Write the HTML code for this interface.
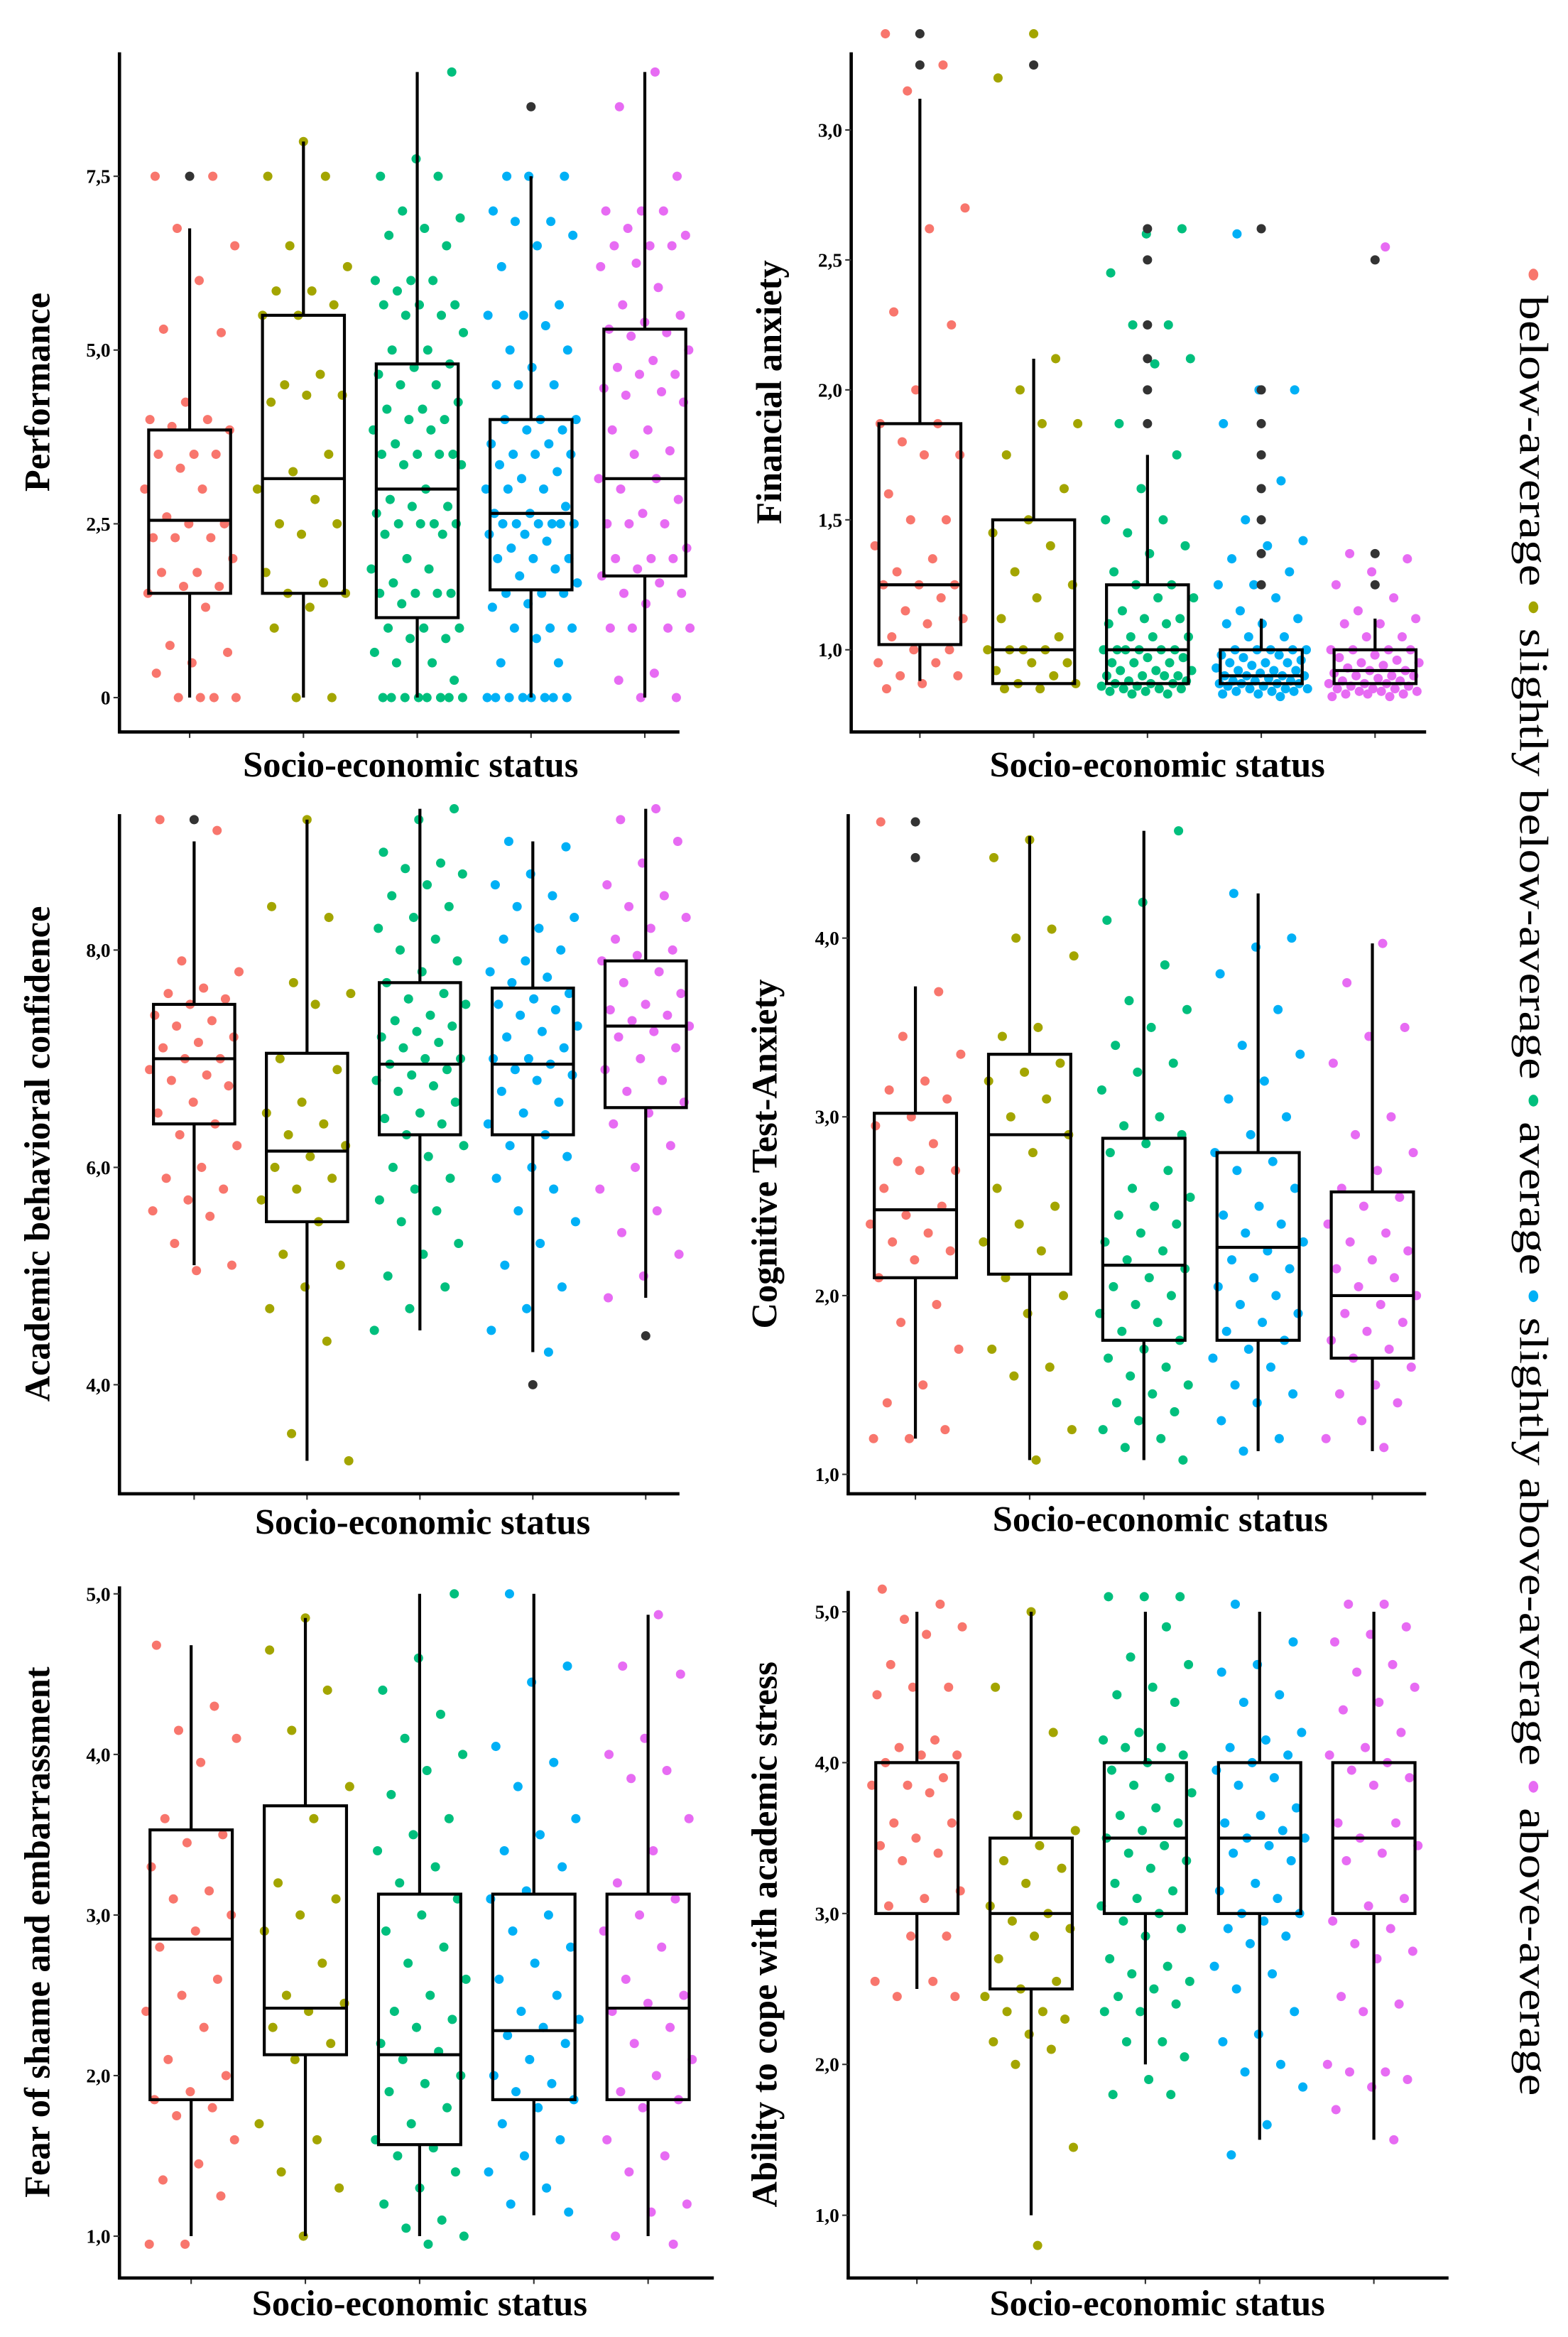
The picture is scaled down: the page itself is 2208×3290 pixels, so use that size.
<!DOCTYPE html>
<html><head><meta charset="utf-8"><style>
html,body{margin:0;padding:0;background:#fff}
svg{display:block}
text{font-family:"Liberation Serif",serif;font-weight:bold;fill:#000}
</style></head><body>
<svg id="fig" width="2208" height="3290" viewBox="0 0 1050 1564.5" preserveAspectRatio="none" xmlns="http://www.w3.org/2000/svg">
<g id="legend" transform="translate(1018,178) rotate(90)">
<text x="0" y="0" font-size="27" font-weight="normal" style="font-weight:normal" textLength="1225" lengthAdjust="spacingAndGlyphs"><tspan fill="#F8766D">•</tspan> below-average <tspan fill="#A3A500">•</tspan> slightly below-average <tspan fill="#00BF7D">•</tspan> average <tspan fill="#00B0F6">•</tspan> slightly above-average <tspan fill="#E76BF3">•</tspan> above-average</text>
</g>
</svg>
<script>
const colors=["#F8766D","#A3A500","#00BF7D","#00B0F6","#E76BF3"];
const categories=["below-average","slightly below-average","average","slightly above-average","above-average"];

// Performance
const perfTicks=[0,2.5,5,7.5];
const perfTickLabels=["0","2,5","5,0","7,5"];
const perfBoxes=[[0,1.5,2.55,3.85,6.75],[0,1.5,3.15,5.5,8.0],[0,1.15,3.0,4.8,9.0],[0,1.55,2.65,4.0,7.5],[0,1.75,3.15,5.3,9.0]];
const perfOutliers=[[7.5],[],[],[8.5],[]];
const perfPoints=[
[7.5,7.5,6.75,6.5,6.0,5.3,5.25,4.25,4.0,4.0,3.9,3.85,3.5,3.5,3.5,3.3,3.0,3.0,2.6,2.5,2.5,2.3,2.3,2.3,2.0,1.8,1.8,1.6,1.6,1.5,1.3,0.75,0.65,0.5,0.35,0,0,0,0],
[8.0,7.5,7.5,6.5,6.2,5.85,5.85,5.65,5.5,5.5,4.65,4.5,4.35,4.35,4.25,3.5,3.25,3.0,2.85,2.5,2.5,2.35,1.8,1.65,1.5,1.5,1.3,1.0,0,0],
[9.0,7.75,7.5,7.5,7.0,6.9,6.75,6.65,6.5,6.0,6.0,6.0,5.85,5.65,5.65,5.65,5.5,5.5,5.25,5.0,5.0,4.8,4.75,4.65,4.5,4.5,4.25,4.15,4.15,4.0,4.0,3.85,3.85,3.65,3.5,3.5,3.5,3.5,3.35,3.35,3.0,2.85,2.75,2.75,2.65,2.5,2.5,2.5,2.5,2.35,2.35,2.0,1.85,1.85,1.65,1.5,1.5,1.5,1.5,1.35,1.0,1.0,1.0,0.85,0.85,0.65,0.5,0.5,0.25,0,0,0,0,0,0,0,0],
[7.5,7.5,7.5,7.0,6.85,6.85,6.65,6.5,6.2,5.65,5.5,5.5,5.35,5.0,5.0,4.75,4.5,4.5,4.5,4.0,4.0,4.0,3.85,3.85,3.65,3.65,3.5,3.5,3.5,3.35,3.25,3.15,3.0,3.0,3.0,2.75,2.65,2.65,2.5,2.5,2.5,2.5,2.5,2.5,2.35,2.35,2.25,2.15,2.0,2.0,2.0,1.85,1.75,1.65,1.5,1.5,1.5,1.35,1.3,1.0,1.0,1.0,0.85,0.5,0.5,0,0,0,0,0,0,0,0],
[9.0,8.5,7.5,7.0,7.0,7.0,6.75,6.65,6.5,6.5,6.5,6.25,6.2,5.9,5.65,5.5,5.4,5.3,5.25,5.2,5.0,4.85,4.75,4.65,4.65,4.45,4.4,4.35,4.25,3.85,3.85,3.55,3.5,3.15,3.15,3.0,2.85,2.65,2.5,2.5,2.5,2.15,2.0,2.0,2.0,1.85,1.75,1.65,1.5,1.5,1.35,1.0,1.0,1.0,1.0,0.35,0.25,0,0]];

// Financial anxiety
const finTicks=[1,1.5,2,2.5,3];
const finTickLabels=["1,0","1,5","2,0","2,5","3,0"];
const finBoxes=[[0.88,1.02,1.25,1.87,3.12],[0.87,0.87,1.0,1.5,2.12],[0.87,0.87,1.0,1.25,1.75],[0.87,0.87,0.9,1.0,1.12],[0.87,0.87,0.92,1.0,1.12]];
const finOutliers=[[3.37,3.25],[3.25],[2.62,2.5,2.25,2.12,2.0,1.87],[2.62,2.0,1.87,1.75,1.62,1.5,1.37,1.25],[2.5,1.37,1.25]];
const finPoints=[
[3.37,3.25,3.15,2.7,2.62,2.3,2.25,2.0,1.87,1.87,1.8,1.75,1.75,1.6,1.5,1.5,1.4,1.35,1.3,1.25,1.25,1.25,1.2,1.15,1.12,1.1,1.05,1.0,1.0,0.95,0.95,0.9,0.9,0.87,0.85],
[3.37,3.2,2.12,2.0,1.87,1.87,1.75,1.62,1.5,1.45,1.4,1.3,1.25,1.2,1.12,1.05,1.0,1.0,1.0,1.0,0.95,0.95,0.92,0.9,0.87,0.87,0.85,0.85],
[2.62,2.6,2.45,2.25,2.25,2.12,2.1,1.87,1.75,1.62,1.5,1.5,1.45,1.4,1.37,1.3,1.25,1.25,1.2,1.2,1.15,1.12,1.12,1.1,1.1,1.05,1.05,1.05,1.0,1.0,1.0,1.0,1.0,1.0,0.97,0.97,0.95,0.95,0.95,0.92,0.92,0.92,0.9,0.9,0.9,0.9,0.88,0.88,0.87,0.87,0.87,0.86,0.86,0.85,0.85,0.85,0.84,0.84,0.83,0.83],
[2.6,2.0,2.0,1.87,1.65,1.5,1.42,1.4,1.35,1.3,1.25,1.25,1.2,1.15,1.12,1.1,1.1,1.05,1.05,1.0,1.0,1.0,1.0,1.0,0.98,0.98,0.97,0.96,0.95,0.95,0.95,0.94,0.93,0.92,0.92,0.92,0.91,0.9,0.9,0.9,0.9,0.89,0.88,0.88,0.88,0.87,0.87,0.87,0.87,0.86,0.86,0.85,0.85,0.85,0.84,0.84,0.84,0.83,0.83,0.82],
[2.55,1.37,1.35,1.3,1.25,1.2,1.15,1.12,1.1,1.1,1.05,1.05,1.0,1.0,1.0,1.0,0.98,0.97,0.96,0.95,0.95,0.94,0.93,0.92,0.92,0.91,0.9,0.9,0.9,0.89,0.88,0.88,0.87,0.87,0.87,0.86,0.86,0.85,0.85,0.85,0.84,0.84,0.84,0.83,0.83,0.83,0.82,0.82]];

// Academic behavioral confidence
const abcTicks=[4,6,8];
const abcTickLabels=["4,0","6,0","8,0"];
const abcBoxes=[[5.1,6.4,7.0,7.5,9.0],[3.3,5.5,6.15,7.05,9.2],[4.5,6.3,6.95,7.7,9.3],[4.3,6.3,6.95,7.65,9.0],[4.8,6.55,7.3,7.9,9.3]];
const abcOutliers=[[9.2],[],[],[4.0],[4.45]];
const abcPoints=[
[9.2,9.1,7.9,7.8,7.65,7.6,7.55,7.5,7.4,7.35,7.3,7.2,7.15,7.1,7.0,7.0,6.9,6.85,6.8,6.75,6.6,6.5,6.4,6.3,6.2,6.0,5.9,5.8,5.7,5.6,5.55,5.3,5.1,5.05],
[9.2,8.4,8.3,7.7,7.6,7.5,7.0,6.9,6.6,6.5,6.4,6.3,6.2,6.1,6.0,5.9,5.8,5.7,5.5,5.2,5.1,4.9,4.7,4.4,3.55,3.3],
[9.3,9.2,8.9,8.8,8.75,8.7,8.6,8.5,8.4,8.3,8.2,8.1,8.0,7.9,7.8,7.7,7.6,7.55,7.5,7.4,7.35,7.3,7.25,7.2,7.15,7.1,7.0,7.0,6.95,6.9,6.85,6.8,6.75,6.7,6.6,6.5,6.45,6.4,6.3,6.2,6.1,6.0,5.9,5.8,5.7,5.6,5.5,5.3,5.2,5.0,4.9,4.7,4.5],
[9.0,8.95,8.7,8.6,8.5,8.4,8.3,8.2,8.1,8.0,7.9,7.8,7.75,7.7,7.6,7.55,7.5,7.45,7.4,7.3,7.25,7.2,7.1,7.0,7.0,6.95,6.9,6.85,6.8,6.7,6.6,6.5,6.4,6.3,6.2,6.1,6.0,5.9,5.8,5.6,5.5,5.3,5.1,4.9,4.7,4.5,4.3],
[9.3,9.2,9.0,8.8,8.6,8.5,8.4,8.3,8.2,8.1,8.0,7.95,7.9,7.8,7.7,7.6,7.5,7.45,7.4,7.35,7.3,7.25,7.2,7.1,7.0,6.9,6.8,6.7,6.6,6.5,6.4,6.2,6.0,5.8,5.6,5.4,5.2,5.0,4.8]];

// Cognitive Test-Anxiety
const ctaTicks=[1,2,3,4];
const ctaTickLabels=["1,0","2,0","3,0","4,0"];
const ctaBoxes=[[1.2,2.1,2.48,3.02,3.73],[1.08,2.12,2.9,3.35,4.57],[1.08,1.75,2.17,2.88,4.6],[1.13,1.75,2.27,2.8,4.25],[1.13,1.65,2.0,2.58,3.97]];
const ctaOutliers=[[4.65,4.45],[],[],[],[]];
const ctaPoints=[
[4.65,3.7,3.45,3.35,3.2,3.15,3.1,3.0,2.95,2.85,2.75,2.7,2.7,2.6,2.5,2.45,2.4,2.35,2.3,2.25,2.2,2.1,1.95,1.85,1.7,1.5,1.4,1.25,1.2,1.2],
[4.55,4.45,4.05,4.0,3.9,3.5,3.45,3.3,3.25,3.2,3.1,3.0,2.9,2.8,2.6,2.5,2.4,2.3,2.25,2.1,2.0,1.9,1.7,1.6,1.55,1.25,1.08],
[4.6,4.2,4.1,3.85,3.65,3.6,3.5,3.4,3.3,3.25,3.15,3.0,2.95,2.9,2.85,2.8,2.7,2.6,2.55,2.5,2.45,2.4,2.35,2.3,2.25,2.2,2.15,2.1,2.05,2.0,1.95,1.9,1.85,1.8,1.75,1.7,1.65,1.6,1.55,1.5,1.45,1.4,1.35,1.3,1.25,1.2,1.15,1.08],
[4.25,4.0,3.95,3.8,3.6,3.4,3.35,3.2,3.1,3.0,2.9,2.8,2.75,2.7,2.6,2.5,2.45,2.4,2.35,2.3,2.25,2.2,2.15,2.1,2.05,2.0,1.95,1.9,1.85,1.8,1.75,1.7,1.65,1.6,1.5,1.45,1.4,1.3,1.2,1.13],
[3.97,3.75,3.5,3.45,3.3,3.0,2.9,2.8,2.7,2.6,2.55,2.5,2.4,2.35,2.3,2.25,2.2,2.15,2.1,2.05,2.0,1.95,1.9,1.85,1.8,1.75,1.7,1.65,1.6,1.5,1.45,1.4,1.3,1.2,1.15]];

// Fear of shame and embarrassment
const fseTicks=[1,2,3,4,5];
const fseTickLabels=["1,0","2,0","3,0","4,0","5,0"];
const fseBoxes=[[1.0,1.85,2.85,3.53,4.68],[1.0,2.13,2.42,3.68,4.85],[1.0,1.57,2.13,3.13,5.0],[1.13,1.85,2.28,3.13,5.0],[1.0,1.85,2.42,3.13,4.87]];
const fseOutliers=[[],[],[],[],[]];
const fsePoints=[
[4.68,4.3,4.15,4.1,3.95,3.6,3.5,3.45,3.3,3.15,3.1,3.0,2.9,2.8,2.6,2.5,2.4,2.3,2.1,2.0,1.9,1.85,1.8,1.75,1.6,1.45,1.35,1.25,0.95,0.95],
[4.85,4.65,4.4,4.15,3.8,3.6,3.2,3.1,3.0,2.9,2.7,2.5,2.45,2.4,2.3,2.2,2.1,1.7,1.6,1.4,1.3,1.0],
[5.0,4.6,4.4,4.25,4.1,4.0,3.9,3.75,3.6,3.5,3.4,3.3,3.2,3.1,3.0,2.9,2.8,2.7,2.6,2.5,2.4,2.35,2.3,2.2,2.15,2.1,2.0,1.95,1.9,1.8,1.7,1.6,1.55,1.5,1.4,1.3,1.2,1.1,1.05,1.0,0.95],
[5.0,4.55,4.45,4.05,3.95,3.8,3.6,3.5,3.4,3.3,3.15,3.1,3.0,2.9,2.8,2.7,2.6,2.5,2.4,2.35,2.3,2.25,2.2,2.1,2.0,1.95,1.9,1.85,1.8,1.7,1.6,1.5,1.4,1.3,1.2,1.15],
[4.87,4.55,4.5,4.1,4.0,3.9,3.85,3.6,3.4,3.2,3.1,3.0,2.9,2.8,2.6,2.5,2.45,2.4,2.3,2.2,2.1,2.0,1.9,1.85,1.8,1.6,1.5,1.4,1.2,1.15,1.0,0.95]];

// Ability to cope with academic stress
const acsTicks=[1,2,3,4,5];
const acsTickLabels=["1,0","2,0","3,0","4,0","5,0"];
const acsBoxes=[[2.5,3.0,4.0,4.0,5.0],[1.0,2.5,3.0,3.5,5.0],[2.0,3.0,3.5,4.0,5.0],[1.5,3.0,3.5,4.0,5.0],[1.5,3.0,3.5,4.0,5.0]];
const acsOutliers=[[],[],[],[],[]];
const acsPoints=[
[5.15,5.05,4.95,4.9,4.85,4.65,4.5,4.5,4.45,4.15,4.1,4.05,4.05,4.0,3.9,3.85,3.85,3.8,3.6,3.6,3.5,3.45,3.4,3.35,3.15,3.1,3.05,2.85,2.85,2.55,2.55,2.45,2.45],
[5.0,4.5,4.2,3.65,3.55,3.45,3.35,3.3,3.2,3.05,3.0,2.95,2.9,2.85,2.7,2.55,2.5,2.45,2.35,2.35,2.3,2.2,2.15,2.1,2.0,1.45,0.8],
[5.1,5.1,5.1,4.9,4.7,4.65,4.5,4.45,4.4,4.2,4.15,4.1,4.1,4.05,4.0,3.95,3.9,3.85,3.8,3.7,3.65,3.6,3.55,3.5,3.45,3.4,3.35,3.3,3.2,3.15,3.1,3.05,3.0,2.95,2.9,2.85,2.7,2.65,2.6,2.55,2.5,2.45,2.4,2.35,2.35,2.15,2.15,2.05,1.9,1.8,1.8],
[5.05,4.8,4.65,4.6,4.45,4.4,4.2,4.15,4.1,4.05,4.0,3.95,3.9,3.85,3.7,3.65,3.6,3.55,3.5,3.5,3.45,3.4,3.35,3.2,3.15,3.1,3.0,3.0,2.95,2.9,2.85,2.8,2.65,2.6,2.5,2.35,2.2,2.15,2.0,1.95,1.85,1.6,1.4],
[5.05,5.05,4.9,4.85,4.8,4.65,4.6,4.5,4.4,4.35,4.2,4.1,4.05,4.0,3.95,3.9,3.85,3.6,3.6,3.5,3.45,3.4,3.35,3.1,3.05,2.95,2.9,2.8,2.75,2.7,2.45,2.4,2.35,2.0,1.95,1.95,1.9,1.85,1.7,1.5]];

const NS="http://www.w3.org/2000/svg";
const svg=document.getElementById('fig');
function mk(tag,attrs,parent){const e=document.createElementNS(NS,tag);for(const k in attrs)e.setAttribute(k,attrs[k]);(parent||svg).appendChild(e);return e;}

function drawPanel(name,title,L,x0,x1,yTop,yBot,vA,yA,vB,yB,gx0,gstep,ticks,tickLabels,boxes,outliers,points,titleX,xTitleY,yTitleX){
  const g=mk('g',{});
  
  
  const y=v=>yA+(v-vA)*(yB-yA)/(vB-vA);
  const x=i=>gx0+i*gstep;
  const bw=gstep*0.72;
  // points
  points.forEach((arr,gi)=>{
    arr.forEach((v,i)=>{
      const f=((i*0.6180339+gi*0.37+0.13)%1)-0.5;
      const c=mk('circle',{cx:x(gi)+f*gstep*0.82,cy:y(v),r:3.1,fill:colors[gi]},g);
      
      
    });
  });
  // boxes
  boxes.forEach((b,gi)=>{
    const cx=x(gi);
    const wl=mk('line',{x1:cx,x2:cx,y1:y(b[0]),y2:y(b[1]),stroke:'#000','stroke-width':2},g);
    
    
    const wh=mk('line',{x1:cx,x2:cx,y1:y(b[3]),y2:y(b[4]),stroke:'#000','stroke-width':2},g);
    
    
    const r=mk('rect',{x:cx-bw/2,y:y(b[3]),width:bw,height:Math.max(0.5,y(b[1])-y(b[3])),fill:'none',stroke:'#000','stroke-width':2},g);
    
    
    const m=mk('line',{x1:cx-bw/2,x2:cx+bw/2,y1:y(b[2]),y2:y(b[2]),stroke:'#000','stroke-width':2},g);
    
    
    outliers[gi].forEach(v=>{
      const o=mk('circle',{cx:cx,cy:y(v),r:3.1,fill:'#333'},g);
      
      
    });
    const xt=mk('line',{x1:cx,x2:cx,y1:yBot,y2:yBot+4,stroke:'#333','stroke-width':1},g);
    
    
  });
  // axes
  const ya=mk('line',{x1:x0,x2:x0,y1:yTop,y2:yBot+1,stroke:'#000','stroke-width':2.2},g);
  
  
  const xa=mk('line',{x1:x0-1,x2:x1,y1:yBot,y2:yBot,stroke:'#000','stroke-width':2.2},g);
  
  
  ticks.forEach((t,i)=>{
    const tl=mk('line',{x1:x0-4,x2:x0,y1:y(t),y2:y(t),stroke:'#333','stroke-width':1},g);
    
    
    const tx=mk('text',{x:x0-6,y:y(t)+4.5,'font-size':13,'text-anchor':'end'},g);
    tx.textContent=tickLabels[i];
    
    
  });
  const yt=mk('text',{transform:`translate(${yTitleX},${(yTop+yBot)/2}) rotate(-90)`,'font-size':24,'text-anchor':'middle'},g);
  yt.textContent=title;
  
  
  const xtt=mk('text',{x:titleX,y:xTitleY,'font-size':24,'text-anchor':'middle'},g);
  xtt.textContent='Socio-economic status';
  
  
}

drawPanel('performance','Performance',0,80,455,35,490,0,467,7.5,118,127,76.2,perfTicks,perfTickLabels,perfBoxes,perfOutliers,perfPoints,275,520,33);
drawPanel('financial-anxiety','Financial anxiety',0,570,955,35,490,1,435,3,87,616,76.2,finTicks,finTickLabels,finBoxes,finOutliers,finPoints,775,520,523);
drawPanel('academic-confidence','Academic behavioral confidence',0,80,455,545,1000,8,636,4,927,130,75.6,abcTicks,abcTickLabels,abcBoxes,abcOutliers,abcPoints,283,1027,33);
drawPanel('cognitive-anxiety','Cognitive Test-Anxiety',0,568,955,545,1000,4,628,1,987,613,76.5,ctaTicks,ctaTickLabels,ctaBoxes,ctaOutliers,ctaPoints,777,1025,520);
drawPanel('fear-shame','Fear of shame and embarrassment',0,80,478,1062,1525,5,1067,1,1497,128,76.5,fseTicks,fseTickLabels,fseBoxes,fseOutliers,fsePoints,281,1550,33);
drawPanel('cope-stress','Ability to cope with academic stress',0,568,970,1065,1525,5,1079,1,1483,614,76.5,acsTicks,acsTickLabels,acsBoxes,acsOutliers,acsPoints,775,1550,520);
</script>
</body></html>
